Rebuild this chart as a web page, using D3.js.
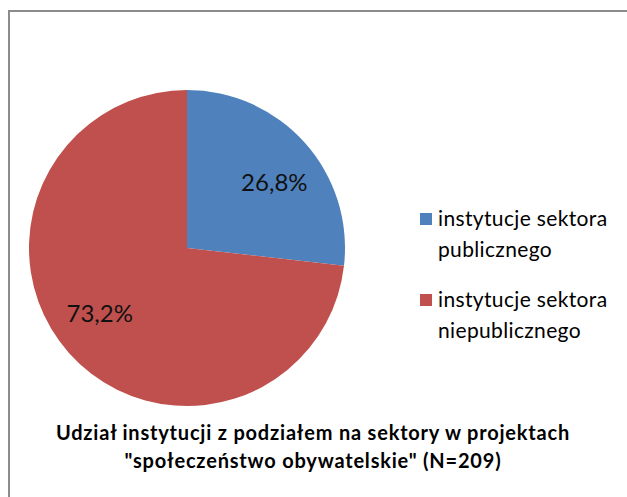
<!DOCTYPE html>
<html>
<head>
  <meta charset="utf-8">
  <script src="https://d3js.org/d3.v7.min.js"></script>
  <style>
    body { margin: 0; background: #fff; }
    svg text { font-family: Lato, "Open Sans", sans-serif; fill: #000; }
    .pct { font-size: 24px; fill: #111; }
    .legend text { font-size: 21px; letter-spacing: 0.35px; }
    .chart-title { font-size: 20px; font-weight: bold; text-anchor: middle; letter-spacing: 0.8px; }
  </style>
</head>
<body>
  <div id="chart"></div>

  <script>
    var categories = ["instytucje sektora publicznego", "instytucje sektora niepublicznego"];
    var legendLines = [["instytucje sektora", "publicznego"], ["instytucje sektora", "niepublicznego"]];
    var values = [26.8, 73.2];
    var labels = ["26,8%", "73,2%"];
    var colors = ["#4f81bd", "#c0504d"];
    var titleLines = ["Udział instytucji z podziałem na sektory w projektach", "\"społeczeństwo obywatelskie\" (N=209)"];

    var width = 627, height = 497;
    var cx = 187, cy = 248, radius = 158;

    var svg = d3.select("#chart")
      .append("svg")
      .attr("width", width)
      .attr("height", height);

    // outer frame (right and bottom edges fall outside the crop)
    svg.append("rect")
      .attr("x", 9)
      .attr("y", 11)
      .attr("width", 700)
      .attr("height", 600)
      .attr("fill", "#fff")
      .attr("stroke", "#8c8c8c")
      .attr("stroke-width", 2);

    var data = categories.map(function(c, i) {
      return { name: c, value: values[i], label: labels[i], color: colors[i] };
    });

    var pie = d3.pie()
      .sort(null)
      .value(function(d) { return d.value; });

    var arc = d3.arc().innerRadius(0).outerRadius(radius);

    // excel puts the labels a little clockwise of the mid angle
    var labelShift = 5 * Math.PI / 180;
    var labelArc = d3.arc().innerRadius(109).outerRadius(109);

    var g = svg.append("g")
      .attr("transform", "translate(" + cx + "," + cy + ")");

    var slices = g.selectAll(".slice")
      .data(pie(data))
      .enter()
      .append("g")
      .attr("class", "slice");

    slices.append("path")
      .attr("d", arc)
      .attr("fill", function(d) { return d.data.color; });

    slices.append("text")
      .attr("class", "pct")
      .attr("transform", function(d) {
        var c = labelArc.centroid({ startAngle: d.startAngle + labelShift, endAngle: d.endAngle + labelShift });
        return "translate(" + c[0] + "," + c[1] + ")";
      })
      .attr("text-anchor", "middle")
      .attr("dy", "0.35em")
      .text(function(d) { return d.data.label; });

    var legend = svg.append("g")
      .attr("class", "legend")
      .attr("transform", "translate(420,213)");

    var items = legend.selectAll(".item")
      .data(data)
      .enter()
      .append("g")
      .attr("class", "item")
      .attr("transform", function(d, i) { return "translate(0," + i * 81 + ")"; });

    items.append("rect")
      .attr("width", 12)
      .attr("height", 12)
      .attr("fill", function(d) { return d.color; });

    items.each(function(d, i) {
      var t = d3.select(this).append("text")
        .attr("x", 18)
        .attr("y", 13);
      legendLines[i].forEach(function(line, j) {
        t.append("tspan")
          .attr("x", 18)
          .attr("dy", j === 0 ? 0 : 31)
          .text(line);
      });
    });

    var title = svg.append("text")
      .attr("class", "chart-title")
      .attr("x", 313)
      .attr("y", 440);

    titleLines.forEach(function(line, j) {
      title.append("tspan")
        .attr("x", 313)
        .attr("dy", j === 0 ? 0 : 28)
        .text(line);
    });
  </script>
</body>
</html>
